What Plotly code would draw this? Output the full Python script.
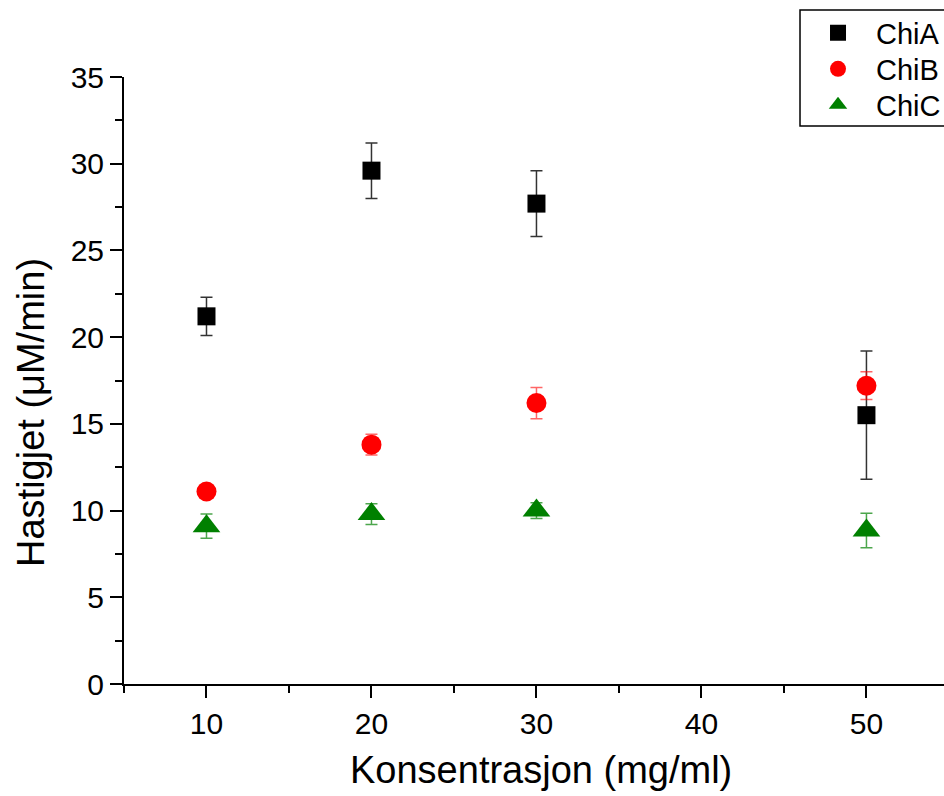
import plotly.graph_objects as go

conc = [10, 20, 30, 50]
chiA = [21.2, 29.6, 27.7, 15.5]
chiA_err = [1.1, 1.6, 1.9, 3.7]
chiB = [11.1, 13.8, 16.2, 17.2]
chiB_err = [0.3, 0.6, 0.9, 0.8]
chiC = [9.1, 9.8, 10.0, 8.85]
chiC_err = [0.7, 0.6, 0.45, 1.0]

font = "Liberation Sans, Arial, sans-serif"

fig = go.Figure()
fig.add_trace(go.Scatter(x=conc, y=chiA, mode="markers", name="ChiA", legend="legend",
    marker=dict(symbol="square", size=18, color="black"),
    error_y=dict(type="data", array=chiA_err, color="rgba(0,0,0,0.8)", thickness=1.5, width=6)))
fig.add_trace(go.Scatter(x=conc, y=chiB, mode="markers", name="ChiB", legend="legend2",
    marker=dict(symbol="circle", size=20, color="red"),
    error_y=dict(type="data", array=chiB_err, color="rgba(255,0,0,0.6)", thickness=1.5, width=6)))
fig.add_trace(go.Scatter(x=conc, y=chiC, mode="markers", name="ChiC", legend="legend3",
    marker=dict(symbol="triangle-up", size=24, color="green"),
    error_y=dict(type="data", array=chiC_err, color="rgba(0,128,0,0.7)", thickness=1.5, width=6)))

leg_common = dict(x=0.8244, xanchor="left", yanchor="middle", borderwidth=0,
                  bgcolor="rgba(0,0,0,0)", font=dict(size=29, family=font), itemwidth=66)

fig.update_layout(
    width=944, height=796,
    margin=dict(l=124, r=0, t=77, b=112, autoexpand=False),
    plot_bgcolor="white", paper_bgcolor="white",
    font=dict(family=font, size=30, color="black"),
    showlegend=True,
    legend=dict(y=1.0725, **leg_common),
    legend2=dict(y=1.0132, **leg_common),
    legend3=dict(y=0.9539, **leg_common),
    shapes=[dict(type="rect", xref="paper", yref="paper", x0=0.8244, x1=1.02,
                 y0=0.9193, y1=1.1104, line=dict(color="black", width=1.5))],
    annotations=[
        dict(text="Konsentrasjon (mg/ml)", xref="paper", yref="paper", x=0.5085, y=-0.141,
             xanchor="center", yanchor="middle", showarrow=False, font=dict(size=38)),
        dict(text="Hastigjet (μM/min)", xref="paper", yref="paper", x=-0.1134, y=0.4465,
             xanchor="center", yanchor="middle", textangle=-90, showarrow=False, font=dict(size=38)),
    ],
    xaxis=dict(range=[5, 54.7], tickvals=[10, 20, 30, 40, 50],
               showline=True, linecolor="black", linewidth=2,
               ticks="outside", ticklen=12, tickwidth=2, tickcolor="black",
               minor=dict(tickvals=[5, 15, 25, 35, 45], ticks="outside", ticklen=7, tickwidth=2, tickcolor="black"),
               showgrid=False, zeroline=False, automargin=False,
               tickfont=dict(size=30)),
    yaxis=dict(range=[0, 35], tickvals=[0, 5, 10, 15, 20, 25, 30, 35],
               showline=True, linecolor="black", linewidth=2,
               ticks="outside", ticklen=12, tickwidth=2, tickcolor="black",
               minor=dict(tickvals=[2.5, 7.5, 12.5, 17.5, 22.5, 27.5, 32.5], ticks="outside", ticklen=7, tickwidth=2, tickcolor="black"),
               showgrid=False, zeroline=False, automargin=False,
               tickfont=dict(size=30)),
)
fig.write_html("out.html", config={"displayModeBar": False},
               post_script="document.body.style.margin='0px';")
